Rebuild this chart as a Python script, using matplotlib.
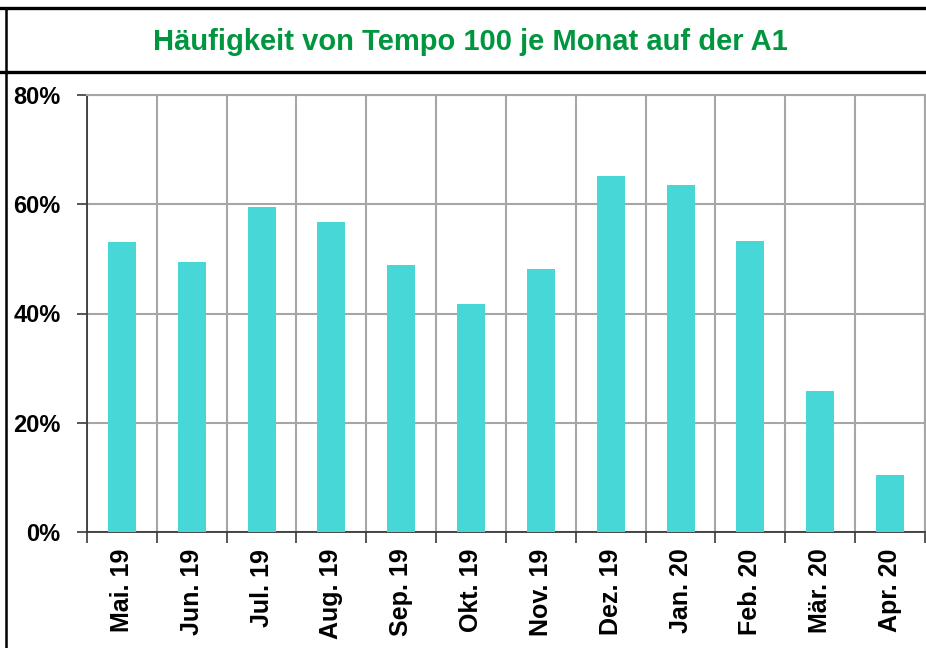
import matplotlib
matplotlib.use('Agg')
import matplotlib.pyplot as plt
from matplotlib.lines import Line2D
from matplotlib.ticker import FixedLocator, FuncFormatter

plt.rcParams['font.family'] = ['Liberation Sans', 'DejaVu Sans']
plt.rcParams['font.weight'] = 'bold'

TITLE = 'Häufigkeit von Tempo 100 je Monat auf der A1'
months = ['Mai. 19', 'Jun. 19', 'Jul. 19', 'Aug. 19', 'Sep. 19', 'Okt. 19',
          'Nov. 19', 'Dez. 19', 'Jan. 20', 'Feb. 20', 'Mär. 20', 'Apr. 20']
share_pct = [53.0, 49.4, 59.5, 56.8, 48.9, 41.7, 48.1, 65.1, 63.6, 53.2, 25.9, 10.4]
y_ticks = [0, 20, 40, 60, 80]

BAR_COLOR = '#46d7d6'
GRID_COLOR = '#a6a6a6'
AXIS_COLOR = '#3a3a3a'
TITLE_COLOR = '#00963f'

fig = plt.figure(figsize=(9.26, 6.48), dpi=100)
ax = fig.add_axes([87 / 926, 116 / 648, 838 / 926, 437 / 648])

positions = list(range(len(months)))
ax.bar(positions, share_pct, width=0.4, color=BAR_COLOR, zorder=3)

ax.set_xlim(-0.5, len(months) - 0.5)
ax.set_ylim(0, 80)

# category labels at centres, tick marks and grid at boundaries
ax.set_xticks(positions)
ax.set_xticklabels(months, rotation=90, fontsize=18, fontweight='bold')
ax.xaxis.set_minor_locator(FixedLocator([i - 0.5 for i in range(len(months) + 1)]))
ax.tick_params(axis='x', which='major', length=0, pad=12)
ax.tick_params(axis='x', which='minor', length=8, width=1.2, color=AXIS_COLOR)
ax.grid(axis='x', which='minor', color=GRID_COLOR, linewidth=1.5, zorder=0)

ax.set_yticks(y_ticks)
ax.yaxis.set_major_formatter(FuncFormatter(lambda v, _: '{:d}%'.format(int(v))))
ax.tick_params(axis='y', length=7, width=1.2, color=AXIS_COLOR, pad=12,
               labelsize=17)
for label in ax.get_yticklabels():
    label.set_fontweight('bold')
ax.grid(axis='y', which='major', color=GRID_COLOR, linewidth=1.5, zorder=0)

for side in ['left', 'bottom']:
    ax.spines[side].set_color(AXIS_COLOR)
    ax.spines[side].set_linewidth(1.3)
for side in ['top', 'right']:
    ax.spines[side].set_color(GRID_COLOR)
    ax.spines[side].set_linewidth(1.5)

# frame around the chart and title box
fig.add_artist(Line2D([0, 1], [1 - 7.5 / 648] * 2, color='black', linewidth=2.4,
                      transform=fig.transFigure))
fig.add_artist(Line2D([0, 1], [1 - 71.5 / 648] * 2, color='black', linewidth=2.4,
                      transform=fig.transFigure))
fig.add_artist(Line2D([6 / 926] * 2, [0, 1 - 7.5 / 648], color='black', linewidth=1.8,
                      transform=fig.transFigure))

fig.text(470 / 926, 1 - 42 / 648, TITLE, ha='center', va='center',
         fontsize=21, fontweight='bold', color=TITLE_COLOR)

fig.savefig('out.png', dpi=100)
